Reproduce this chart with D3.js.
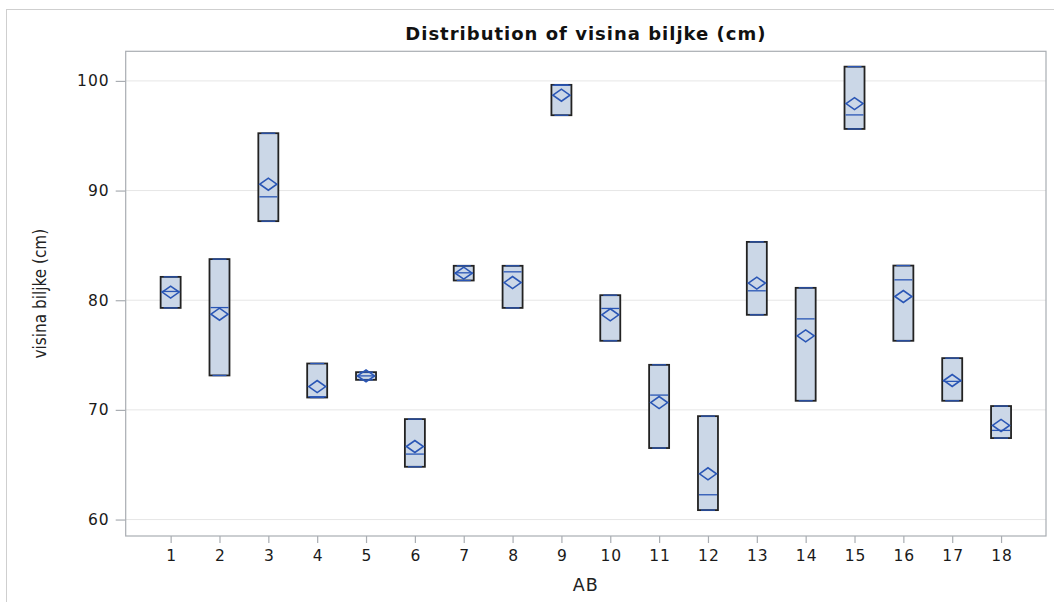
<!DOCTYPE html>
<html>
<head>
<meta charset="utf-8">
<script src="https://cdn.jsdelivr.net/npm/d3@7"></script>
<style>
  html, body { margin: 0; padding: 0; background: #fff; }
  svg { display: block; }
</style>
</head>
<body>
<svg id="chart" width="1054" height="602"></svg>
<script>
// ---- data ----
const groups  = ["1","2","3","4","5","6","7","8","9","10","11","12","13","14","15","16","17","18"];
const lowVals = [79.3, 73.14, 87.21, 71.13, 72.74, 64.81, 81.8, 79.3, 96.87, 76.3, 66.52, 60.86, 78.67, 70.83, 95.62, 76.3, 70.83, 67.43];
const highVals= [82.13, 83.75, 95.23, 74.23, 73.44, 69.16, 83.14, 83.14, 99.64, 80.46, 74.11, 69.43, 85.32, 81.13, 101.3, 83.16, 74.72, 70.35];
const medians = [80.8, 79.33, 89.43, 71.2, 73.1, 65.97, 82.5, 82.59, 99.6, 79.25, 71.35, 62.26, 80.86, 78.3, 96.9, 81.86, 72.6, 68.13];
const means   = [80.74, 78.73, 90.58, 72.13, 73.1, 66.66, 82.47, 81.61, 98.7, 78.67, 70.67, 64.17, 81.56, 76.75, 97.93, 80.34, 72.68, 68.58];
const yTicks  = [60, 70, 80, 90, 100];
const titleText = "Distribution of visina biljke (cm)";
const xTitle = "AB";
const yTitle = "visina biljke (cm)";

// ---- layout ----
const svg = d3.select("#chart");
const plot = { left: 125.7, right: 1046, top: 51.3, bottom: 536 };

const x = d3.scalePoint().domain(groups).range([plot.left, plot.right]).padding(0.92);
const y = d3.scaleLinear().domain([58.5, 102.7]).range([plot.bottom, plot.top]);

const blue = "#2a56b5";
const fill = "#cbd7e7";
const boxW = 20;

// outer frame
svg.append("rect").attr("x", 6.5).attr("y", 9.5).attr("width", 1060).attr("height", 620)
  .attr("fill", "none").attr("stroke", "#cfcfcf").attr("stroke-width", 1);

// gridlines
svg.append("g").selectAll("line").data(yTicks).join("line")
  .attr("x1", plot.left).attr("x2", plot.right)
  .attr("y1", d => y(d)).attr("y2", d => y(d))
  .attr("stroke", "#e6e6e6").attr("stroke-width", 1);

// plot frame
svg.append("rect").attr("x", plot.left).attr("y", plot.top)
  .attr("width", plot.right - plot.left).attr("height", plot.bottom - plot.top)
  .attr("fill", "none").attr("stroke", "#a9adb2").attr("stroke-width", 1.2);

// axes
const tickFont = "DejaVu Sans, Verdana, sans-serif";
const yAxis = svg.append("g").attr("transform", `translate(${plot.left},0)`)
  .call(d3.axisLeft(y).tickValues(yTicks).tickSize(10).tickPadding(6).tickFormat(d3.format("d")));
const xAxis = svg.append("g").attr("transform", `translate(0,${plot.bottom})`)
  .call(d3.axisBottom(x).tickSize(7).tickPadding(7));
[yAxis, xAxis].forEach(a => {
  a.select(".domain").remove();
  a.selectAll(".tick line").attr("stroke", "#a9adb2").attr("stroke-width", 1.2);
  a.selectAll(".tick text").attr("fill", "#1a1a1a").style("font-family", tickFont)
    .style("font-size", "15.5px").style("letter-spacing", "1px");
});
xAxis.selectAll(".tick text").attr("dx", "0.5px");

// boxes
const data = groups.map((g, i) => ({ g, lo: lowVals[i], hi: highVals[i], med: medians[i], mean: means[i] }));
const bx = svg.append("g").selectAll("g").data(data).join("g");
bx.append("rect")
  .attr("x", d => x(d.g) - boxW / 2).attr("width", boxW)
  .attr("y", d => y(d.hi)).attr("height", d => y(d.lo) - y(d.hi))
  .attr("fill", fill).attr("stroke", "#222").attr("stroke-width", 1.8);
// whisker caps (blue)
["lo", "hi"].forEach(k => {
  bx.append("line")
    .attr("x1", d => x(d.g) - boxW / 2 + 3).attr("x2", d => x(d.g) + boxW / 2 - 3)
    .attr("y1", d => y(d[k])).attr("y2", d => y(d[k]))
    .attr("stroke", blue).attr("stroke-width", 1.3);
});
// median
bx.append("line")
  .attr("x1", d => x(d.g) - boxW / 2 + 1).attr("x2", d => x(d.g) + boxW / 2 - 1)
  .attr("y1", d => y(d.med)).attr("y2", d => y(d.med))
  .attr("stroke", blue).attr("stroke-width", 1.3);
// mean diamond
bx.append("path")
  .attr("d", d => {
    const cx = x(d.g), cy = y(d.mean);
    return `M${cx - 8.5},${cy}L${cx},${cy - 6}L${cx + 8.5},${cy}L${cx},${cy + 6}Z`;
  })
  .attr("fill", "none").attr("stroke", blue).attr("stroke-width", 1.6);

// title
svg.append("text").attr("x", (plot.left + plot.right) / 2).attr("y", 40)
  .attr("text-anchor", "middle").style("font-family", "DejaVu Sans, Verdana, sans-serif")
  .style("font-weight", "bold").style("font-size", "18px").style("letter-spacing", "1px")
  .attr("fill", "#111").text(titleText);

// axis titles
svg.append("text").attr("x", (plot.left + plot.right) / 2).attr("y", 591)
  .attr("text-anchor", "middle").style("font-family", tickFont)
  .style("font-size", "17.5px").style("letter-spacing", "1px").attr("fill", "#222").text(xTitle);
svg.append("text")
  .attr("transform", `translate(46,${(plot.top + plot.bottom) / 2}) rotate(-90)`)
  .attr("text-anchor", "middle")
  .style("font-family", "'Liberation Sans Narrow', 'DejaVu Sans Condensed', sans-serif")
  .style("font-size", "17px").attr("fill", "#222").text(yTitle);
</script>
</body>
</html>
